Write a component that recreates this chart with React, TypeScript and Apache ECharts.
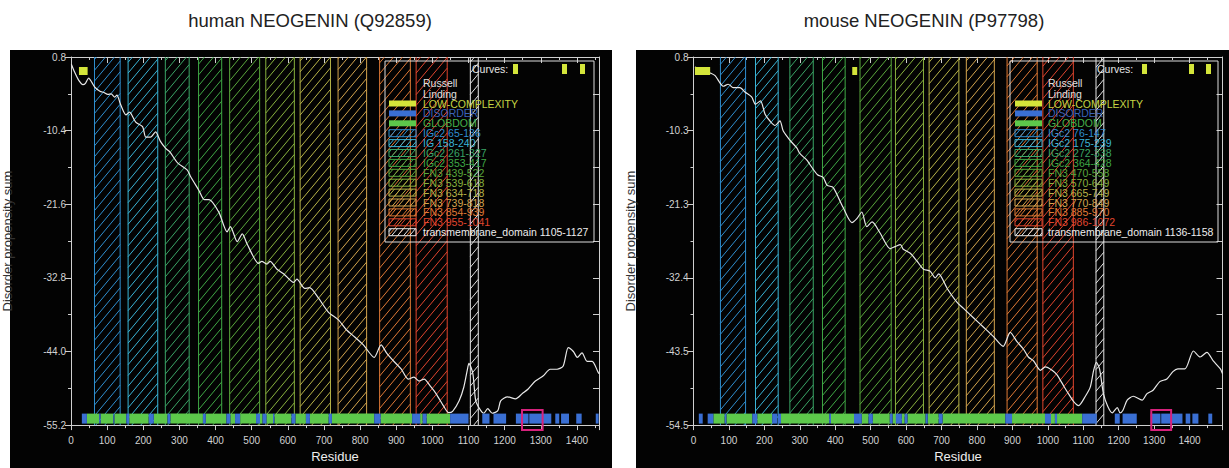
import React, { useEffect, useRef } from 'react';
import * as echarts from 'echarts';

// ---------------- data ----------------
const humanTitle = 'human NEOGENIN (Q92859)';
const mouseTitle = 'mouse NEOGENIN (P97798)';
const humanLength = 1461;
const mouseLength = 1493;
const humanYTickLabels = ['-55.2', '-44.0', '-32.8', '-21.6', '-10.4', '0.8'];
const mouseYTickLabels = ['-54.5', '-43.5', '-32.4', '-21.3', '-10.3', '0.8'];
const humanYRange = [-55.2, 0.8];
const mouseYRange = [-54.54, 0.8];

const humanDomains: [string, number, number][] = [
  ['IGc2', 65, 136], ['IG', 158, 240], ['IGc2', 261, 327], ['IGc2', 353, 417],
  ['FN3', 439, 522], ['FN3', 539, 618], ['FN3', 634, 718], ['FN3', 739, 818],
  ['FN3', 854, 939], ['FN3', 955, 1041],
];
const humanTransmembrane: [string, number, number] = ['transmembrane_domain', 1105, 1127];

const mouseDomains: [string, number, number][] = [
  ['IGc2', 76, 147], ['IGc2', 175, 239], ['IGc2', 272, 338], ['IGc2', 364, 428],
  ['FN3', 470, 558], ['FN3', 570, 649], ['FN3', 665, 749], ['FN3', 770, 849],
  ['FN3', 885, 970], ['FN3', 986, 1072],
];
const mouseTransmembrane: [string, number, number] = ['transmembrane_domain', 1136, 1158];

const humanLowComplexity = [[22, 46]];
const mouseLowComplexity = [[4, 47], [448, 462]];

const humanGlobdom = [
  [44, 78], [82, 117], [120, 153], [161, 215], [229, 267], [275, 365], [373, 430], [441, 454],
  [468, 512], [523, 530], [541, 559], [563, 610], [621, 650], [661, 713], [722, 839], [857, 944],
  [966, 973], [984, 1049],
];
const humanDisorder = [
  [30, 44], [78, 82], [117, 120], [153, 161], [215, 229], [267, 275], [365, 373], [430, 441],
  [454, 468], [512, 523], [530, 541], [559, 563], [610, 621], [650, 661], [713, 722], [839, 857],
  [944, 966], [973, 984], [1049, 1100], [1138, 1158], [1169, 1204], [1231, 1266], [1268, 1329],
  [1340, 1351], [1356, 1378], [1398, 1413], [1452, 1460],
];
const mouseGlobdom = [
  [56, 88], [93, 166], [180, 222], [247, 383], [388, 453], [475, 494], [506, 554], [562, 571],
  [588, 596], [604, 655], [661, 692], [703, 880], [899, 992], [1009, 1020], [1026, 1097],
];
const mouseDisorder = [
  [15, 26], [40, 56], [88, 93], [166, 180], [222, 236], [238, 247], [383, 388], [453, 475],
  [494, 506], [554, 562], [571, 588], [596, 604], [655, 661], [692, 703], [880, 899], [992, 1009],
  [1020, 1026], [1097, 1138], [1189, 1203], [1211, 1251], [1290, 1318], [1320, 1380], [1389, 1402],
  [1408, 1425], [1453, 1464],
];

const humanHighlight = [[1248, 1305]];
const mouseHighlight = [[1292, 1348]];

const humanCurve = [
  [1, -0.3], [10, -1.5], [22, -2.8], [33, -3.4], [40, -3.2], [49, -2.4], [58, -3.1], [66, -3.8],
  [80, -4.4], [91, -4.6], [102, -4.9], [111, -4.8], [121, -5.3], [127, -5.0], [137, -6.4], [152, -8.0],
  [162, -7.6], [166, -7.8], [179, -9.1], [198, -9.8], [207, -11.4], [220, -11.4], [234, -10.6], [247, -12.0],
  [262, -13.1], [273, -13.6], [295, -15.3], [322, -16.4], [330, -17.3], [354, -19.5], [369, -20.9], [382, -20.9],
  [409, -22.8], [432, -25.8], [441, -25.0], [460, -27.3], [474, -26.1], [487, -27.6], [519, -30.6], [528, -30.3],
  [542, -30.7], [551, -30.3], [570, -31.5], [589, -32.2], [616, -33.5], [625, -33.0], [647, -34.4], [660, -34.3],
  [685, -35.9], [712, -38.0], [740, -39.2], [762, -40.7], [785, -41.8], [809, -43.0], [839, -44.9], [858, -43.0],
  [873, -44.2], [895, -45.6], [914, -46.7], [933, -48.2], [949, -47.9], [963, -48.5], [977, -48.2], [996, -49.4],
  [1010, -50.4], [1032, -52.4], [1045, -53.3], [1056, -53.1], [1074, -51.5], [1087, -49.4], [1098, -46.4], [1101, -45.8],
  [1112, -47.4], [1120, -51.5], [1134, -53.0], [1142, -53.4], [1153, -52.7], [1166, -53.4], [1181, -53.0], [1189, -51.5],
  [1208, -50.9], [1230, -51.2], [1249, -50.4], [1265, -49.7], [1285, -48.5], [1307, -47.7], [1326, -46.7], [1345, -46.7],
  [1362, -46.2], [1376, -43.4], [1390, -44.0], [1401, -44.9], [1414, -44.2], [1428, -45.5], [1442, -45.5], [1458, -47.1],
  [1461, -47.4],
];

const mouseCurve = [
  [4, -0.7], [20, -1.0], [47, -1.6], [61, -2.0], [84, -3.6], [98, -3.3], [112, -3.8], [131, -3.8],
  [146, -4.5], [164, -5.2], [175, -6.3], [189, -5.8], [202, -7.8], [217, -8.9], [230, -9.5], [244, -8.8],
  [253, -10.3], [272, -11.7], [292, -12.9], [300, -13.7], [320, -14.7], [329, -15.4], [350, -16.9], [366, -17.3],
  [377, -18.5], [394, -18.8], [422, -21.8], [447, -24.1], [461, -23.5], [475, -22.5], [489, -24.7], [504, -24.0],
  [527, -25.7], [555, -28.0], [569, -27.7], [584, -27.4], [592, -28.1], [612, -28.7], [631, -29.9], [649, -31.1],
  [668, -31.4], [682, -32.4], [692, -31.8], [716, -34.0], [744, -36.1], [762, -37.0], [790, -38.4], [818, -39.8],
  [846, -41.2], [874, -42.7], [894, -40.6], [913, -42.0], [931, -43.1], [945, -44.3], [960, -44.9], [979, -46.3],
  [993, -45.8], [1012, -46.3], [1026, -47.0], [1043, -48.5], [1058, -49.8], [1073, -51.0], [1087, -51.6], [1106, -50.2],
  [1120, -48.8], [1129, -46.4], [1137, -45.1], [1146, -46.1], [1157, -49.8], [1169, -51.7], [1182, -52.7], [1196, -51.9],
  [1204, -52.7], [1212, -52.3], [1224, -50.8], [1241, -50.2], [1266, -50.8], [1280, -49.8], [1297, -49.3], [1316, -48.0],
  [1336, -47.6], [1353, -46.5], [1367, -46.1], [1387, -46.1], [1411, -43.4], [1430, -44.3], [1449, -43.6], [1467, -44.9],
  [1487, -46.1], [1493, -46.8],
];

// ---------------- styles ----------------
const FONT = 'Liberation Sans, Arial, Helvetica, sans-serif';
const bandColors = ['#2f8fd0', '#3ab4d6', '#3aa566', '#3fa845', '#5aa83c', '#88b23e', '#b8b448', '#d4a54e', '#e07a36', '#e0452e', '#e6e6e6'];
const yellow = '#d4e53a';
const green = '#5dc84b';
const blue = '#3a6fd3';
const magenta = '#d6227c';
const axisColor = '#cfcfcf';
const labelColor = '#d2d2d2';

function hatchSegs(x0: number, x1: number, yT: number, yB: number, spacing: number, k: number) {
  const segs: number[][] = [];
  const cStart = Math.ceil((x0 + yT / k) / spacing) * spacing;
  const cEnd = x1 + yB / k;
  for (let c = cStart; c <= cEnd; c += spacing) {
    const ya = Math.max(yT, (c - x1) * k);
    const yb = Math.min(yB, (c - x0) * k);
    if (yb <= ya) continue;
    segs.push([c - ya / k, ya, c - yb / k, yb]);
  }
  return segs;
}

function panelSeries(xi: number, yi: number, yRange: number[], domains: any[], tm: any, curve: number[][], glob: number[][], dis: number[][], low: number[][], hl: number[][]) {
  const [yMin, yMax] = yRange;
  const bandData = domains.map((d: any, i: number) => [d[1], d[2], i]).concat([[tm[1], tm[2], 10]]);
  return [
    {
      type: 'custom', xAxisIndex: xi, yAxisIndex: yi, z: 1, silent: true,
      data: bandData, encode: { x: [0, 1] },
      renderItem: (params: any, api: any) => {
        const p0 = api.coord([api.value(0), yMax]);
        const p1 = api.coord([api.value(1), yMin]);
        const x0 = p0[0], x1 = p1[0], yT = p0[1], yB = p1[1];
        let d = `M${x0} ${yT}L${x0} ${yB}M${x1} ${yT}L${x1} ${yB}`;
        hatchSegs(x0, x1, yT, yB, 9, 1.2).forEach((s) => {
          d += `M${s[0].toFixed(2)} ${s[1].toFixed(2)}L${s[2].toFixed(2)} ${s[3].toFixed(2)}`;
        });
        return { type: 'path', shape: { pathData: d }, style: { stroke: bandColors[api.value(2)], fill: 'none', lineWidth: 1 } };
      },
    },
    {
      type: 'line', xAxisIndex: xi, yAxisIndex: yi, z: 3, data: curve, showSymbol: false, symbol: 'none',
      smooth: 0.25, lineStyle: { color: '#e8e8e8', width: 1.2 }, silent: true,
    },
    {
      type: 'custom', xAxisIndex: xi, yAxisIndex: yi, z: 4, silent: true,
      data: glob.map((s) => [s[0], s[1], 0]).concat(dis.map((s) => [s[0], s[1], 1])), encode: { x: [0, 1] },
      renderItem: (params: any, api: any) => {
        const a = api.coord([api.value(0), yMin]);
        const b = api.coord([api.value(1), yMin]);
        return { type: 'rect', shape: { x: a[0], y: a[1] - 11.5, width: b[0] - a[0], height: 10 }, style: { fill: api.value(2) === 0 ? green : blue } };
      },
    },
    {
      type: 'custom', xAxisIndex: xi, yAxisIndex: yi, z: 4, silent: true,
      data: low, encode: { x: [0, 1] },
      renderItem: (params: any, api: any) => {
        const a = api.coord([api.value(0), yMax]);
        const b = api.coord([api.value(1), yMax]);
        return { type: 'rect', shape: { x: a[0], y: a[1] + 10, width: b[0] - a[0], height: 8 }, style: { fill: yellow } };
      },
    },
    {
      type: 'custom', xAxisIndex: xi, yAxisIndex: yi, z: 5, silent: true,
      data: hl, encode: { x: [0, 1] },
      renderItem: (params: any, api: any) => {
        const a = api.coord([api.value(0), yMin]);
        const b = api.coord([api.value(1), yMin]);
        return { type: 'rect', shape: { x: a[0], y: a[1] - 15, width: b[0] - a[0], height: 20 }, style: { stroke: magenta, fill: 'none', lineWidth: 2 } };
      },
    },
  ];
}

function xAxes(gridIndex: number, max: number) {
  const line = { show: true, onZero: false, lineStyle: { color: axisColor, width: 1 } };
  return [
    {
      type: 'value', gridIndex, min: 0, max, interval: 100, position: 'bottom',
      axisLine: line,
      axisTick: { show: true, inside: false, length: 5, lineStyle: { color: axisColor } },
      minorTick: { show: true, splitNumber: 2, length: 3, lineStyle: { color: axisColor } },
      axisLabel: { color: labelColor, fontSize: 10, margin: 10, fontFamily: FONT, formatter: (v: number) => (v % 100 === 0 ? String(v) : '') },
      splitLine: { show: false }, minorSplitLine: { show: false },
      name: 'Residue', nameLocation: 'middle', nameGap: 24,
      nameTextStyle: { color: '#eeeeee', fontSize: 13, fontFamily: FONT },
    },
    {
      type: 'value', gridIndex, min: 0, max, interval: 100, position: 'top',
      axisLine: line,
      axisTick: { show: true, inside: true, length: 6, lineStyle: { color: axisColor } },
      minorTick: { show: true, splitNumber: 2, length: 3, lineStyle: { color: axisColor } },
      axisLabel: { show: false }, splitLine: { show: false }, minorSplitLine: { show: false },
    },
  ];
}

function yAxes(gridIndex: number, range: number[], labels: string[]) {
  const line = { show: true, onZero: false, lineStyle: { color: axisColor, width: 1 } };
  return [
    { type: 'value', gridIndex, min: range[0], max: range[1], show: false, position: 'left' },
    {
      type: 'value', gridIndex, min: 0, max: 5, interval: 1, position: 'left',
      axisLine: line,
      axisTick: { show: true, inside: false, length: 6, lineStyle: { color: axisColor } },
      minorTick: { show: true, splitNumber: 2, length: 3, lineStyle: { color: axisColor } },
      axisLabel: { color: labelColor, fontSize: 10, margin: 5, fontFamily: FONT, formatter: (v: number) => labels[Math.round(v)] ?? '' },
      splitLine: { show: false }, minorSplitLine: { show: false },
      name: 'Disorder propensity sum', nameLocation: 'middle', nameGap: 57,
      nameTextStyle: { color: '#333333', fontSize: 13, fontFamily: FONT },
    },
    {
      type: 'value', gridIndex, min: 0, max: 5, interval: 0.5, position: 'right',
      axisLine: line,
      axisTick: { show: true, inside: true, length: 6, lineStyle: { color: axisColor } },
      axisLabel: { show: false }, splitLine: { show: false },
    },
  ];
}

function legendGraphics(L: any, domains: any[], tm: any) {
  const els: any[] = [];
  const txt = (text: string, x: number, y: number, fill: string) => ({
    type: 'text', x, y, z: 100, silent: true,
    style: { text, fill, fontSize: 10.5, lineHeight: 9, fontFamily: FONT, verticalAlign: 'middle', align: 'left' },
  });
  els.push({ type: 'rect', z: 100, silent: true, shape: { x: L.boxX, y: 61, width: L.boxW, height: 181 }, style: { stroke: '#dddddd', fill: 'none', lineWidth: 1 } });
  els.push(txt('Curves:', L.curvesX, 69, '#e6e6e6'));
  L.marks.forEach((mx: number) => els.push({ type: 'rect', z: 100, silent: true, shape: { x: mx, y: 64, width: 5, height: 10 }, style: { fill: yellow } }));
  els.push(txt('Russell', L.txX, 83, '#e0e0e0'));
  els.push(txt('Linding', L.txX, 93.5, '#e0e0e0'));
  const rows: any[] = [
    { label: 'LOW-COMPLEXITY', solid: yellow, tc: '#c5d543' },
    { label: 'DISORDER', solid: blue, tc: '#3a62b8' },
    { label: 'GLOBDOM', solid: green, tc: '#45b04a' },
  ];
  domains.forEach((d: any, i: number) => rows.push({ label: `${d[0]} ${d[1]}-${d[2]}`, hatch: bandColors[i], tc: bandColors[i] }));
  rows.push({ label: `${tm[0]} ${tm[1]}-${tm[2]}`, hatch: bandColors[10], tc: '#eeeeee' });
  rows.forEach((r, i) => {
    const y = 103.5 + i * 9.9;
    if (r.solid) {
      els.push({ type: 'rect', z: 100, silent: true, shape: { x: L.swX, y: y - 3, width: 27, height: 6 }, style: { fill: r.solid } });
    } else {
      const x0 = L.swX, x1 = L.swX + 27, yT = y - 3.5, yB = y + 3.5;
      els.push({ type: 'rect', z: 100, silent: true, shape: { x: x0, y: yT, width: 27, height: 7 }, style: { stroke: r.hatch, fill: 'none', lineWidth: 1 } });
      hatchSegs(x0, x1, yT, yB, 6, 1.2).forEach((s) => {
        els.push({ type: 'line', z: 100, silent: true, shape: { x1: s[0], y1: s[1], x2: s[2], y2: s[3] }, style: { stroke: r.hatch, lineWidth: 1 } });
      });
    }
    els.push(txt(r.label, L.txX, y, r.tc));
  });
  return els;
}

function buildOption() {
  const graphics: any[] = [
    { type: 'rect', z: -10, silent: true, shape: { x: 10, y: 50, width: 602, height: 418 }, style: { fill: '#030303' } },
    { type: 'rect', z: -10, silent: true, shape: { x: 636, y: 50, width: 593, height: 418 }, style: { fill: '#030303' } },
    { type: 'text', x: 310, y: 20, silent: true, style: { text: humanTitle, fill: '#222222', fontSize: 18.5, fontFamily: FONT, align: 'center', verticalAlign: 'middle' } },
    { type: 'text', x: 924, y: 20, silent: true, style: { text: mouseTitle, fill: '#222222', fontSize: 18.5, fontFamily: FONT, align: 'center', verticalAlign: 'middle' } },
    ...legendGraphics({ boxX: 385, boxW: 209, swX: 389, txX: 423, curvesX: 472, marks: [513, 562, 580] }, humanDomains, humanTransmembrane),
    ...legendGraphics({ boxX: 1010, boxW: 208, swX: 1015, txX: 1048, curvesX: 1097, marks: [1142, 1189, 1206] }, mouseDomains, mouseTransmembrane),
  ];
  return {
    animation: false,
    backgroundColor: '#ffffff',
    grid: [
      { left: 68, top: 57, width: 531, height: 375 },
      { left: 693.5, top: 57, width: 529, height: 375 },
    ],
    xAxis: [...xAxes(0, humanLength), ...xAxes(1, mouseLength)],
    yAxis: [...yAxes(0, humanYRange, humanYTickLabels), ...yAxes(1, mouseYRange, mouseYTickLabels)],
    series: [
      ...panelSeries(0, 0, humanYRange, humanDomains, humanTransmembrane, humanCurve, humanGlobdom, humanDisorder, humanLowComplexity, humanHighlight),
      ...panelSeries(2, 3, mouseYRange, mouseDomains, mouseTransmembrane, mouseCurve, mouseGlobdom, mouseDisorder, mouseLowComplexity, mouseHighlight),
    ],
    graphic: { elements: graphics },
  };
}

export default function App() {
  const ref = useRef<HTMLDivElement>(null);
  useEffect(() => {
    document.body.style.margin = '0';
    const chart = echarts.init(ref.current as HTMLDivElement, null, { renderer: 'svg' });
    chart.setOption(buildOption() as any);
    return () => chart.dispose();
  }, []);
  return <div ref={ref} style={{ width: 1229, height: 468 }} />;
}
